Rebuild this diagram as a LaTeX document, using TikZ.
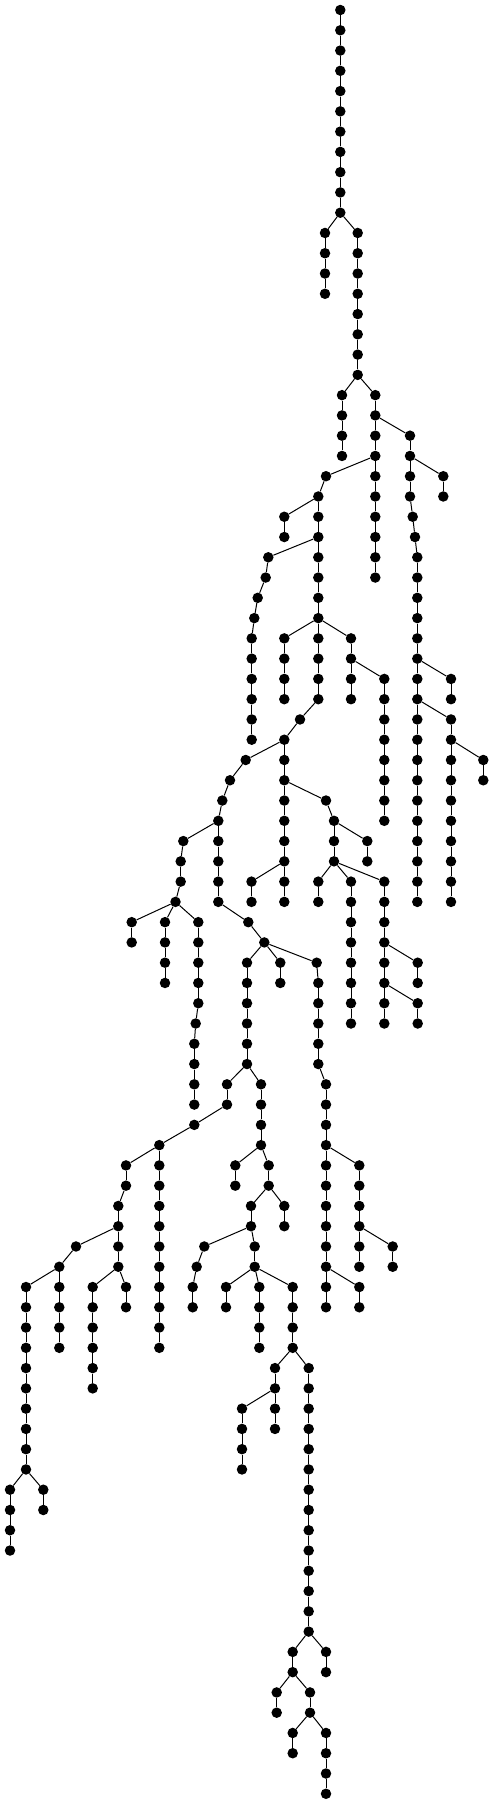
\documentclass[tikz,border=0pt]{standalone}
\usepackage{tikz}

\tikzset{
  dot/.style={circle, fill=black, inner sep=0pt, minimum size=10.5pt},
  link/.style={line width=1pt}
}

\begin{document}
\begin{tikzpicture}[x=1pt, y=-20.27pt]
  % Page size (one unit down = one level of the tree)
  \useasboundingbox (0pt,10pt) rectangle (495pt,-1794pt);

  % Vertical runs: name / x / first level / last level
  \foreach \ch/\cx/\lo/\hi in {
      t/340.3/0/10, a/325/11/14, b/357.7/11/18, c/342/19/22, d/375.3/19/28,
      e/410/21/24, ea/412.7/25/25, eb/415/26/26, h/417.3/27/44, i/443.3/23/24,
      f/326/23/23, g/318.3/24/34, k/284.3/25/26,
      ma/268.3/27/27, mb/265.7/28/28, mc/257.7/29/29, md/254.3/30/30, m/251.7/31/36,
      o/284.3/31/34, q/351/31/34, s/384.3/33/40, ua/300/35/35, p/284.3/36/44,
      v/451/33/34, w/451/35/44, xa/483.3/37/38,
      ya/245.7/37/37, yb/230/38/38, yc/222.3/39/39, z/218.3/40/44,
      za/183.3/41/41, zb/180.7/42/43, zc/175.5/44/44,
      aa/131.7/45/46, ab/165/45/48, ac/198.3/45/49, ad/195.7/50/50, ae/194.3/51/54,
      af/248.3/45/45, ag/264.3/46/46, ah/247/47/52, ai/280.3/47/48,
      aj/316.7/47/47, ak/318.3/48/52,
      al/326/39/39, am/334/40/42, an/367.3/41/42,
      ao/318.3/43/44, ap/351/43/50, aq/384.3/43/50, ar/417.7/47/48, as/417.7/49/50,
      at/251.5/43/44,
      au/227/53/54, av/194.3/55/55, aw/159.3/56/66, ax/126/57/58, ay/118.3/59/62,
      az/76/61/61, ba/59.3/62/66, bb/26/63/72, bc/10/73/76, bd/43.3/73/74,
      be/92.7/63/68, bf/126/63/64,
      bg/261/53/56, bh/235.3/57/58, bi/268.7/57/58, bj/251/59/60, bk/284.3/59/60,
      bl/204.3/61/61, bm/196.7/62/62, bn/192.7/63/64, bo/254.7/61/62,
      bp/226/63/64, bq/259.3/63/66, br/292.7/63/66,
      bs/275/67/70, bt/242/69/72, bu/308.7/67/80,
      bv/292.7/81/82, bw/326/81/82, bx/276.7/83/84, by/310/83/84,
      bz/292.7/85/86, ca/326/85/88,
      cb/326/53/64, cc/359.3/57/62, cd/392.7/61/62, ce/359.3/63/64}{
    \foreach \lv in {\lo,...,\hi}{
      \node[dot] (\ch-\lv) at (\cx,\lv) {};
      \ifnum\lv>\lo\relax
        \pgfmathtruncatemacro\prv{\lv-1}
        \draw[link] (\ch-\prv) -- (\ch-\lv);
      \fi
    }
  }

  % Branches
  \foreach \u/\v in {
      t-10/a-11, t-10/b-11, b-18/c-19, b-18/d-19, d-20/e-21,
      e-24/ea-25, ea-25/eb-26, eb-26/h-27, e-22/i-23, d-22/f-23, f-23/g-24,
      g-24/k-25, g-26/ma-27, ma-27/mb-28, mb-28/mc-29, mc-29/md-30, md-30/m-31,
      g-30/o-31, g-30/q-31, q-32/s-33, g-34/ua-35, ua-35/p-36,
      h-32/v-33, h-34/w-35, w-36/xa-37,
      p-36/ya-37, ya-37/yb-38, yb-38/yc-39, yc-39/z-40,
      z-40/za-41, za-41/zb-42, zb-43/zc-44,
      zc-44/aa-45, zc-44/ab-45, zc-44/ac-45, ac-49/ad-50, ad-50/ae-51,
      z-44/af-45, af-45/ag-46, ag-46/ah-47, ag-46/ai-47, ag-46/aj-47, aj-47/ak-48,
      p-38/al-39, al-39/am-40, am-40/an-41,
      am-42/ao-43, am-42/ap-43, am-42/aq-43, aq-46/ar-47, aq-48/as-49,
      p-42/at-43,
      ah-52/au-53, au-54/av-55, av-55/aw-56, aw-56/ax-57, ax-58/ay-59,
      ay-60/az-61, az-61/ba-62, ba-62/bb-63, bb-72/bc-73, bb-72/bd-73,
      ay-62/be-63, ay-62/bf-63,
      ah-52/bg-53, bg-56/bh-57, bg-56/bi-57, bi-58/bj-59, bi-58/bk-59,
      bj-60/bl-61, bl-61/bm-62, bm-62/bn-63, bj-60/bo-61,
      bo-62/bp-63, bo-62/bq-63, bo-62/br-63,
      br-66/bs-67, bs-68/bt-69, br-66/bu-67,
      bu-80/bv-81, bu-80/bw-81, bv-82/bx-83, bv-82/by-83,
      by-84/bz-85, by-84/ca-85,
      ak-52/cb-53, cb-56/cc-57, cc-60/cd-61, cb-62/ce-63}
    \draw[link] (\u) -- (\v);
\end{tikzpicture}
\end{document}
